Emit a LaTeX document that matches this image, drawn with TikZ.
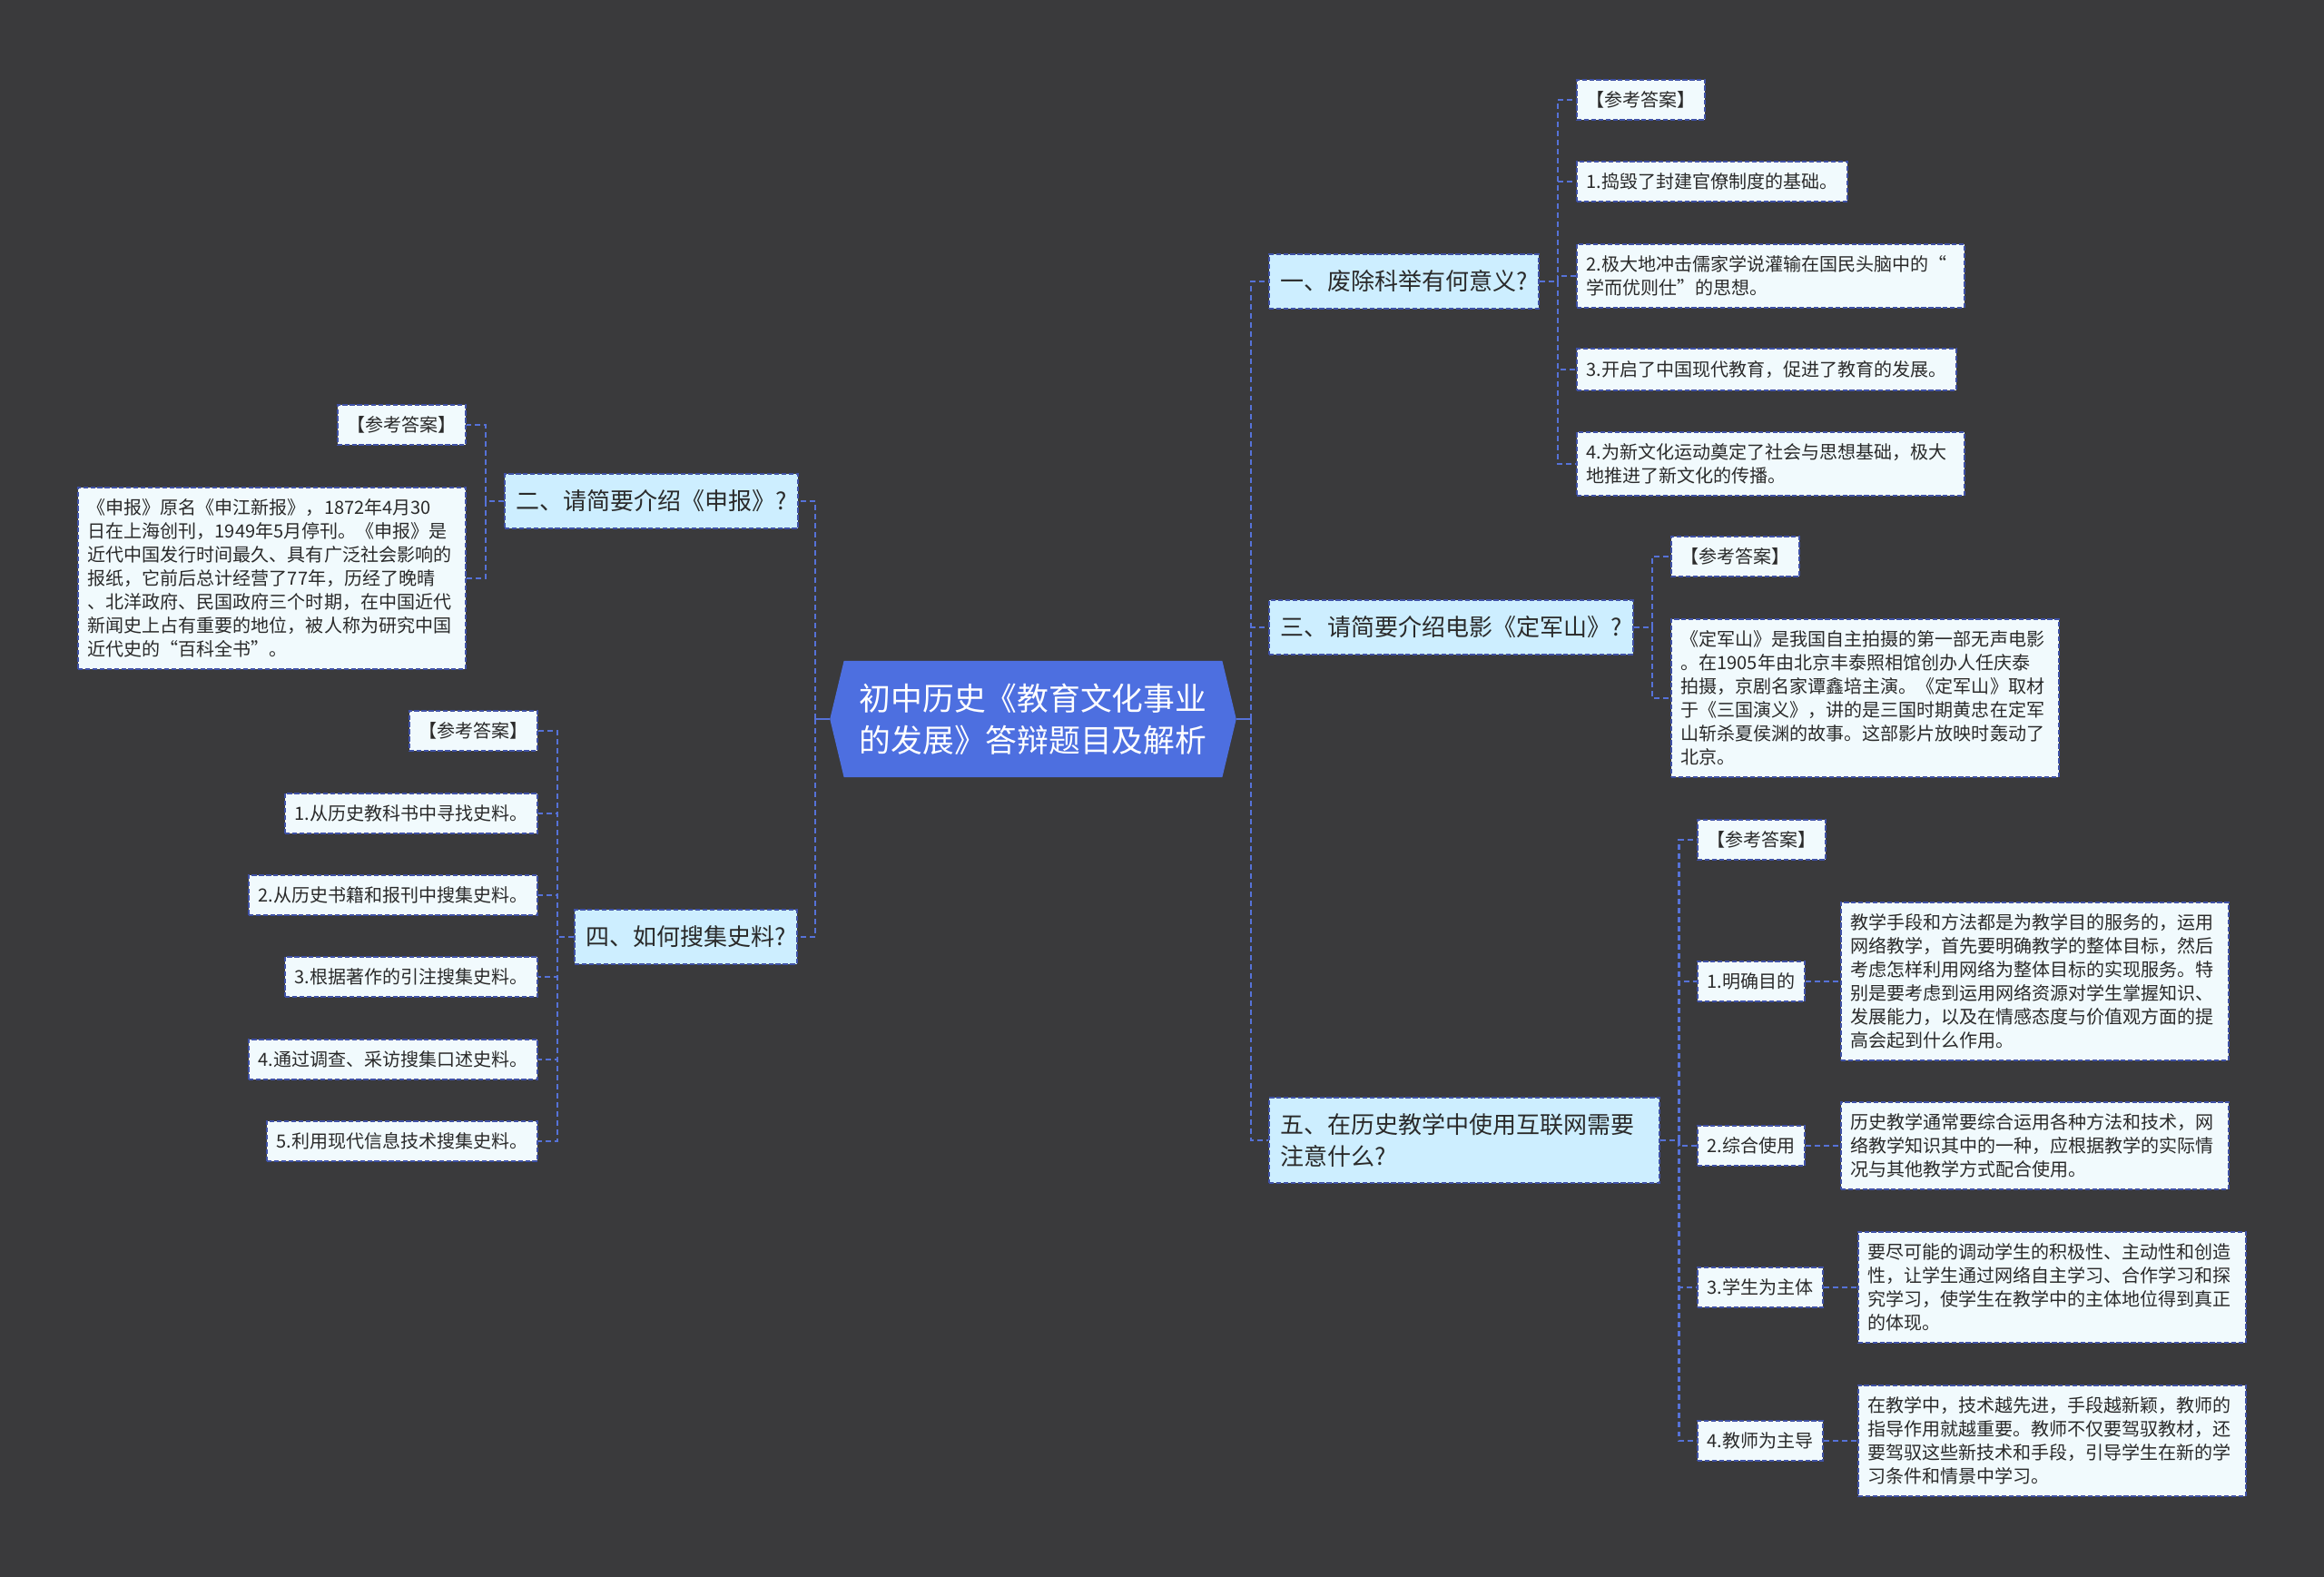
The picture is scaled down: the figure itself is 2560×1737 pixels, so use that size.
\documentclass[tikz,border=0pt]{standalone}
\usepackage{fontspec}
\setmainfont{Noto Sans CJK SC}
\usetikzlibrary{shapes.symbols,positioning}

\definecolor{bgdark}{HTML}{3A3A3C}
\definecolor{rootblue}{HTML}{4D6FE0}
\definecolor{linkblue}{HTML}{5672D8}
\definecolor{edgeblue}{HTML}{3F51A6}
\definecolor{branchfill}{HTML}{CDEEFF}
\definecolor{leaffill}{HTML}{F1FAFD}
\definecolor{inkgray}{HTML}{2A2A2A}

\tikzset{
  root/.style={signal, signal from=nowhere, signal to=west and east, signal pointer angle=153,
    fill=rootblue, text=white, align=center, inner xsep=9.7pt, inner ysep=14.2pt,
    font=\fontsize{19.8}{26.2}\selectfont},
  branch/.style={draw=edgeblue, line width=1.1pt, dash pattern=on 3pt off 1.5pt,
    fill=branchfill, text=inkgray, align=left, inner xsep=7pt, inner ysep=10pt,
    font=\fontsize{14.8}{19.4}\selectfont},
  leaf/.style={draw=edgeblue, line width=1.1pt, dash pattern=on 3pt off 1.5pt,
    fill=leaffill, text=inkgray, align=left, inner xsep=6pt, inner ysep=7.4pt,
    font=\fontsize{11.4}{14.8}\selectfont},
  longleaf/.style={leaf, text width=231pt},
  link/.style={draw=linkblue, line width=1.4pt, dash pattern=on 3.4pt off 2.3pt},
  stub/.style={draw=linkblue, line width=1.4pt},
}

\begin{document}
\begin{tikzpicture}[x=0.02cm, y=-0.02cm]
\fill[bgdark] (0,0) rectangle (2560,1737);
\useasboundingbox (0,0) rectangle (2560,1737);

\node[root] (root) at (1138,792) {初中历史《教育文化事业\\的发展》答辩题目及解析};
\coordinate (rr) at (1378,792);
\coordinate (rl) at (898,792);

\node[branch, anchor=west] (b1) at (1397,310) {一、废除科举有何意义?};
\node[branch, anchor=west] (b3) at (1397,691) {三、请简要介绍电影《定军山》?};
\node[branch, anchor=west, text width=231pt] (b5) at (1397,1256) {五、在历史教学中使用互联网需要\\注意什么?};
\node[branch, anchor=east] (b2) at (880,552) {二、请简要介绍《申报》?};
\node[branch, anchor=east] (b4) at (879,1032) {四、如何搜集史料?};

\node[leaf, anchor=west] (l10) at (1736,110) {【参考答案】};
\node[leaf, anchor=west] (l11) at (1736,200) {1.捣毁了封建官僚制度的基础。};
\node[longleaf, anchor=west] (l12) at (1736,304) {2.极大地冲击儒家学说灌输在国民头脑中的“\\学而优则仕”的思想。};
\node[leaf, anchor=west] (l13) at (1736,407) {3.开启了中国现代教育，促进了教育的发展。};
\node[longleaf, anchor=west] (l14) at (1736,511) {4.为新文化运动奠定了社会与思想基础，极大\\地推进了新文化的传播。};

\node[leaf, anchor=west] (l30) at (1840,613) {【参考答案】};
\node[longleaf, anchor=west] (l31) at (1840,769) {《定军山》是我国自主拍摄的第一部无声电影\\。在1905年由北京丰泰照相馆创办人任庆泰\\拍摄，京剧名家谭鑫培主演。《定军山》取材\\于《三国演义》，讲的是三国时期黄忠在定军\\山斩杀夏侯渊的故事。这部影片放映时轰动了\\北京。};

\node[leaf, anchor=west] (l50) at (1869,925) {【参考答案】};
\node[leaf, anchor=west] (m1) at (1869,1081) {1.明确目的};
\node[leaf, anchor=west] (m2) at (1869,1262) {2.综合使用};
\node[leaf, anchor=west] (m3) at (1869,1418) {3.学生为主体};
\node[leaf, anchor=west] (m4) at (1869,1587) {4.教师为主导};
\node[longleaf, right=0.76cm of m1] (t1) {教学手段和方法都是为教学目的服务的，运用\\网络教学，首先要明确教学的整体目标，然后\\考虑怎样利用网络为整体目标的实现服务。特\\别是要考虑到运用网络资源对学生掌握知识、\\发展能力，以及在情感态度与价值观方面的提\\高会起到什么作用。};
\node[longleaf, right=0.76cm of m2] (t2) {历史教学通常要综合运用各种方法和技术，网\\络教学知识其中的一种，应根据教学的实际情\\况与其他教学方式配合使用。};
\node[longleaf, right=0.74cm of m3] (t3) {要尽可能的调动学生的积极性、主动性和创造\\性，让学生通过网络自主学习、合作学习和探\\究学习，使学生在教学中的主体地位得到真正\\的体现。};
\node[longleaf, right=0.74cm of m4] (t4) {在教学中，技术越先进，手段越新颖，教师的\\指导作用就越重要。教师不仅要驾驭教材，还\\要驾驭这些新技术和手段，引导学生在新的学\\习条件和情景中学习。};

\node[leaf, anchor=east] (l20) at (514,468) {【参考答案】};
\node[longleaf, anchor=east] (l21) at (514,637) {《申报》原名《申江新报》，1872年4月30\\日在上海创刊，1949年5月停刊。《申报》是\\近代中国发行时间最久、具有广泛社会影响的\\报纸，它前后总计经营了77年，历经了晚晴\\、北洋政府、民国政府三个时期，在中国近代\\新闻史上占有重要的地位，被人称为研究中国\\近代史的“百科全书”。};

\node[leaf, anchor=east] (l40) at (593,805) {【参考答案】};
\node[leaf, anchor=east] (l41) at (593,896) {1.从历史教科书中寻找史料。};
\node[leaf, anchor=east] (l42) at (593,986) {2.从历史书籍和报刊中搜集史料。};
\node[leaf, anchor=east] (l43) at (593,1076) {3.根据著作的引注搜集史料。};
\node[leaf, anchor=east] (l44) at (593,1167) {4.通过调查、采访搜集口述史料。};
\node[leaf, anchor=east] (l45) at (593,1257) {5.利用现代信息技术搜集史料。};

\draw[stub] (root.east) -- (rr);
\draw[stub] (root.west) -- (rl);
\draw[link] (rr) |- (b1.west);
\draw[link] (rr) |- (b3.west);
\draw[link] (rr) |- (b5.west);
\draw[link] (rl) |- (b2.east);
\draw[link] (rl) |- (b4.east);

\draw[link] (b1.east) -- ++(20,0) |- (l10.west);
\draw[link] (b1.east) -- ++(20,0) |- (l11.west);
\draw[link] (b1.east) -- ++(20,0) |- (l12.west);
\draw[link] (b1.east) -- ++(20,0) |- (l13.west);
\draw[link] (b1.east) -- ++(20,0) |- (l14.west);

\draw[link] (b3.east) -- ++(20,0) |- (l30.west);
\draw[link] (b3.east) -- ++(20,0) |- (l31.west);

\draw[link] (b5.east) -- ++(20,0) |- (l50.west);
\draw[link] (b5.east) -- ++(20,0) |- (m1.west);
\draw[link] (b5.east) -- ++(20,0) |- (m2.west);
\draw[link] (b5.east) -- ++(20,0) |- (m3.west);
\draw[link] (b5.east) -- ++(20,0) |- (m4.west);
\draw[link] (m1) -- (t1);
\draw[link] (m2) -- (t2);
\draw[link] (m3) -- (t3);
\draw[link] (m4) -- (t4);

\draw[link] (b2.west) -- ++(-20,0) |- (l20.east);
\draw[link] (b2.west) -- ++(-20,0) |- (l21.east);

\draw[link] (b4.west) -- ++(-18,0) |- (l40.east);
\draw[link] (b4.west) -- ++(-18,0) |- (l41.east);
\draw[link] (b4.west) -- ++(-18,0) |- (l42.east);
\draw[link] (b4.west) -- ++(-18,0) |- (l43.east);
\draw[link] (b4.west) -- ++(-18,0) |- (l44.east);
\draw[link] (b4.west) -- ++(-18,0) |- (l45.east);
\end{tikzpicture}
\end{document}
